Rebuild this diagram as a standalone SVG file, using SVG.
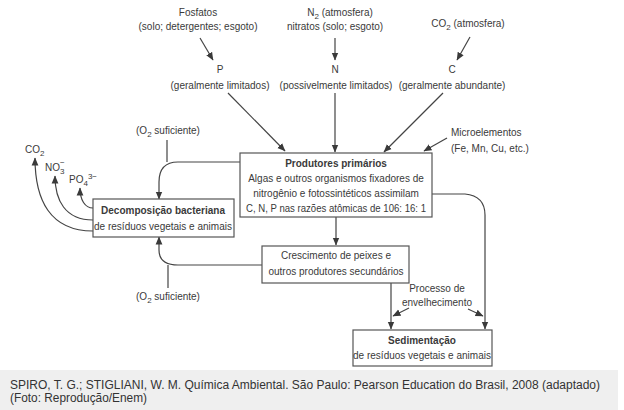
<svg xmlns="http://www.w3.org/2000/svg" width="624" height="410" viewBox="0 0 624 410">
<defs>
<marker id="ah" markerWidth="9" markerHeight="9" refX="7.5" refY="4" orient="auto" markerUnits="userSpaceOnUse">
<path d="M0,0.6 L8,4 L0,7.4 Z" fill="#3a3a3a"/>
</marker>
</defs>
<style>
text{font-family:Arial,"Liberation Sans",Helvetica,sans-serif;font-size:10px;fill:#3a3a3a}
.c{text-anchor:middle}
.b{font-weight:bold}
.box{fill:#fff;stroke:#555;stroke-width:1.2}
.ln{fill:none;stroke:#444;stroke-width:1.2}
.a{marker-end:url(#ah)}
.cap{font-size:12px;fill:#333}
</style>
<rect width="624" height="410" fill="#fff"/>
<g id="connectors">
<path class="ln a" d="M200,38 L213,60"/>
<path class="ln a" d="M335,38 V60"/>
<path class="ln a" d="M470,37 L457,60"/>
<path class="ln a" d="M228,93 L285,151"/>
<path class="ln a" d="M335,93 V152"/>
<path class="ln a" d="M443,93 L384,152"/>
<path class="ln a" d="M447,138 L424,151"/>
<path class="ln a" d="M336,217 V245"/>
<path class="ln a" d="M240,162 H178 Q159,162 159,182 V199"/>
<path class="ln" d="M167,140 V162"/>
<path class="ln a" d="M262,265 H178 Q159,265 159,250 V237"/>
<path class="ln" d="M168,288 V265"/>
<path class="ln a" d="M432,194 H465 Q485,196 485,215 V329"/>
<path class="ln a" d="M391,283 V329"/>
<path class="ln a" d="M409,308 L393,316"/>
<path class="ln a" d="M468,309 L483,316"/>
<path class="ln a" d="M93,231 C50,231 35,200 35,158"/>
<path class="ln a" d="M93,220 C65,220 55,200 55,176"/>
<path class="ln a" d="M93,208 C85,208 80,200 80,188"/>
</g>
<g id="fosfatos">
<text class="c" x="198" y="16">Fosfatos</text>
<text class="c" x="198" y="30">(solo; detergentes; esgoto)</text>
</g>
<g id="p">
<text class="c" x="220" y="73">P</text>
<text class="c" x="220" y="89">(geralmente limitados)</text>
</g>
<g id="n2">
<text class="c" x="340" y="16">N<tspan font-size="8" dy="3">2</tspan><tspan dy="-3"> (atmosfera)</tspan></text>
<text class="c" x="335" y="30">nitratos (solo; esgoto)</text>
</g>
<g id="n">
<text class="c" x="335" y="73">N</text>
<text class="c" x="336" y="89">(possivelmente limitados)</text>
</g>
<g id="co2">
<text class="c" x="468" y="27">CO<tspan font-size="8" dy="3">2</tspan><tspan dy="-3"> (atmosfera)</tspan></text>
</g>
<g id="c">
<text class="c" x="452" y="73">C</text>
<text class="c" x="452" y="89">(geralmente abundante)</text>
</g>
<g id="micro">
<text x="451" y="136">Microelementos</text>
<text x="451" y="152">(Fe, Mn, Cu, etc.)</text>
</g>
<g id="o2top">
<text class="c" x="168" y="134">(O<tspan font-size="8" dy="3">2</tspan><tspan dy="-3"> suficiente)</tspan></text>
</g>
<g id="o2bottom">
<text class="c" x="168" y="300">(O<tspan font-size="8" dy="3">2</tspan><tspan dy="-3"> suficiente)</tspan></text>
</g>
<g id="produtores">
<rect class="box" x="240" y="153" width="192" height="64"/>
<text class="c b" x="336" y="167">Produtores primários</text>
<text class="c" x="336" y="182">Algas e outros organismos fixadores de</text>
<text class="c" x="336" y="197">nitrogênio e fotossintéticos assimilam</text>
<text class="c" x="336" y="212" textLength="180" lengthAdjust="spacingAndGlyphs">C, N, P nas razões atômicas de 106: 16: 1</text>
</g>
<g id="decomposicao">
<rect class="box" x="93" y="199" width="141" height="38"/>
<text class="c b" x="163" y="214">Decomposição bacteriana</text>
<text class="c" x="163" y="230">de resíduos vegetais e animais</text>
</g>
<g id="crescimento">
<rect class="box" x="262" y="246" width="147" height="37"/>
<text class="c" x="336" y="259">Crescimento de peixes e</text>
<text class="c" x="336" y="275">outros produtores secundários</text>
</g>
<g id="processo">
<text class="c" x="437" y="292">Processo de</text>
<text class="c" x="437" y="306">envelhecimento</text>
</g>
<g id="sedimentacao">
<rect class="box" x="353" y="330" width="139" height="36"/>
<text class="c b" x="422" y="344">Sedimentação</text>
<text class="c" x="422" y="359">de resíduos vegetais e animais</text>
</g>
<g id="outputs">
<text x="25" y="153">CO<tspan font-size="8" dy="3">2</tspan></text>
<text x="45" y="171">NO<tspan font-size="8" dy="3">3</tspan><tspan font-size="8" dx="-4.5" dy="-9">−</tspan></text>
<text x="69" y="183">PO<tspan font-size="8" dy="3">4</tspan><tspan font-size="8" dy="-7">3−</tspan></text>
</g>
<g id="caption">
<rect x="0" y="370" width="618" height="40" fill="#efefef"/>
<text class="cap" x="10" y="389" textLength="590" lengthAdjust="spacingAndGlyphs">SPIRO, T. G.; STIGLIANI, W. M. Química Ambiental. São Paulo: Pearson Education do Brasil, 2008 (adaptado)</text>
<text class="cap" x="10" y="402" textLength="137" lengthAdjust="spacingAndGlyphs">(Foto: Reprodução/Enem)</text>
</g>
</svg>
